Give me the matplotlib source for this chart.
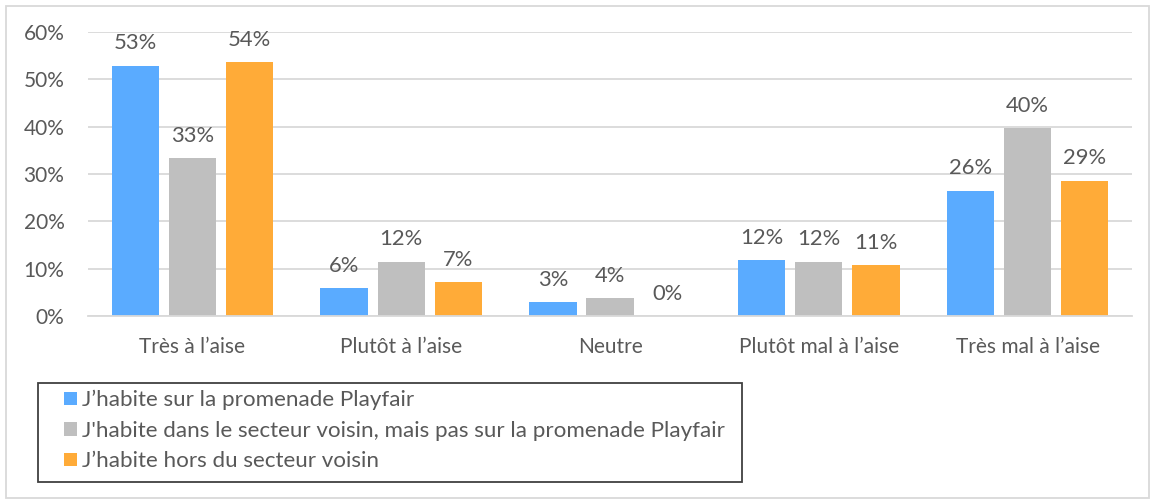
import numpy as np
import matplotlib.pyplot as plt
from matplotlib.patches import Rectangle

plt.rcParams['font.family'] = ['Lato', 'DejaVu Sans']

categories = ["Très à l’aise", "Plutôt à l’aise", "Neutre", "Plutôt mal à l’aise", "Très mal à l’aise"]
series_names = ["J’habite sur la promenade Playfair",
                "J'habite dans le secteur voisin, mais pas sur la promenade Playfair",
                "J’habite hors du secteur voisin"]
playfair = [0.529, 0.059, 0.029, 0.118, 0.265]
voisin = [0.333, 0.115, 0.038, 0.115, 0.397]
hors = [0.536, 0.071, 0.0, 0.107, 0.286]
colors = ['#5aabff', '#bfbfbf', '#ffab38']
text_color = '#595959'

fig = plt.figure(figsize=(11.52, 5), dpi=100)
ax = fig.add_axes([88/1152, 1-316/500, (1132-88)/1152, (316-32)/500])

x = np.arange(len(categories))
w = 0.227
step = 0.273
for i, (vals, col) in enumerate(zip([playfair, voisin, hors], colors)):
    pos = x + (i - 1) * step
    ax.bar(pos, vals, width=w, color=col, label=series_names[i], zorder=2)
    for p, v in zip(pos, vals):
        ax.text(p, v + 0.026, f"{round(v*100)}%", ha='center', va='bottom',
                fontsize=15.8, color=text_color)

ax.set_xlim(-0.5, len(categories) - 0.5)
ax.set_ylim(0, 0.6)
ax.set_yticks(np.arange(0, 0.61, 0.1))
ax.set_yticklabels([f"{int(round(t*100))}%" for t in np.arange(0, 0.61, 0.1)])
ax.set_xticks(x)
ax.set_xticklabels(categories)
ax.tick_params(axis='both', length=0, labelsize=15, colors=text_color)
ax.tick_params(axis='x', pad=15)
ax.tick_params(axis='y', pad=17)
ax.grid(axis='y', color='#d9d9d9', linewidth=1.3, zorder=0)
for s in ['top', 'right', 'left']:
    ax.spines[s].set_visible(False)
ax.spines['bottom'].set_color('#d9d9d9')
ax.spines['bottom'].set_linewidth(1.3)

leg = fig.legend(loc='upper left', bbox_to_anchor=(64/1152, 1-390/500),
                 fontsize=16.1, frameon=False,
                 handlelength=0.56, handleheight=0.56, handletextpad=0.25,
                 labelspacing=0.47, borderpad=0, borderaxespad=0)
for t in leg.get_texts():
    t.set_color(text_color)

# legend box
fig.patches.append(Rectangle((38/1152, 1-482/500), 704/1152, 99/500, transform=fig.transFigure,
                             fill=False, edgecolor='#404040', linewidth=1.3))
# outer chart border
fig.patches.append(Rectangle((6/1152, 0.004), 1143/1152, 1-0.004-6/500, transform=fig.transFigure,
                             fill=False, edgecolor='#d9d9d9', linewidth=1.3))

fig.savefig('out.png', dpi=100)
